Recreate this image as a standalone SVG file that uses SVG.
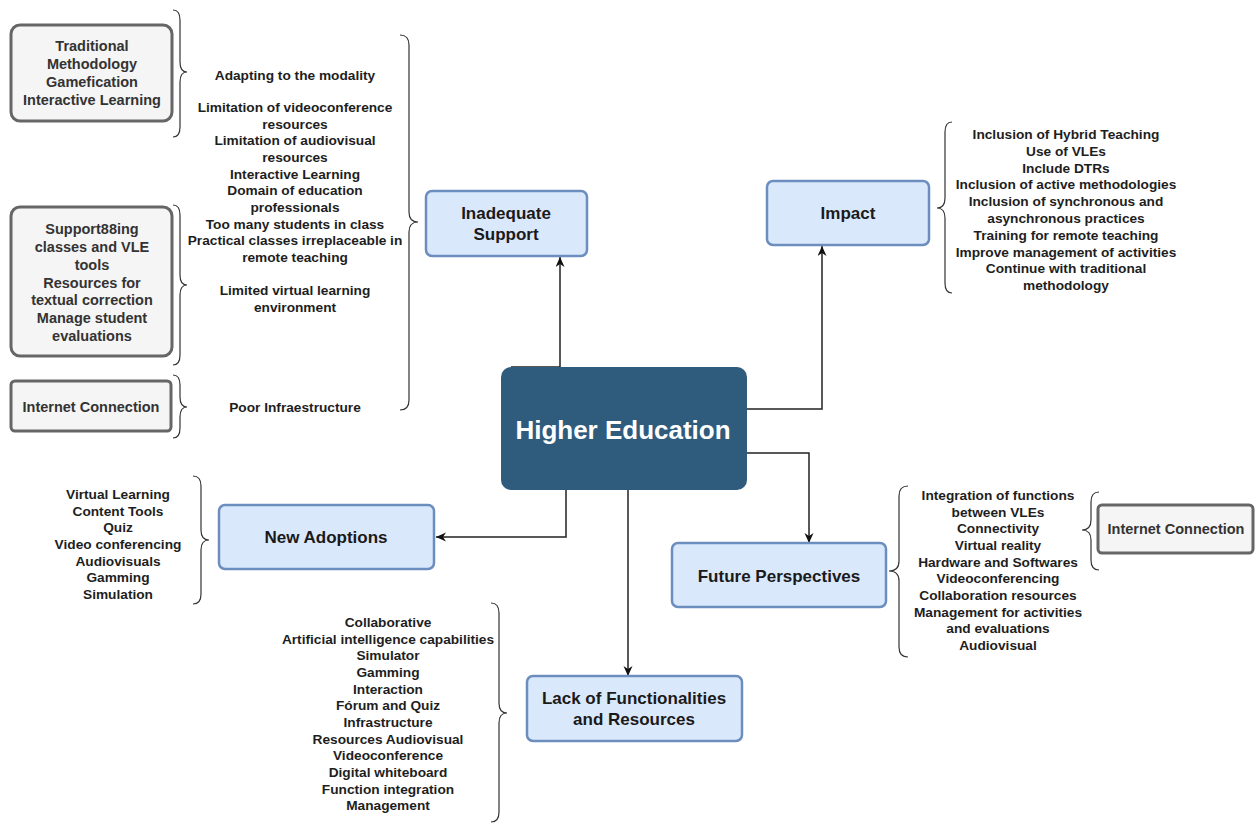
<svg xmlns="http://www.w3.org/2000/svg" width="1257" height="824" viewBox="0 0 1257 824">
  <defs>
    <marker id="arrow" markerUnits="userSpaceOnUse" markerWidth="12" markerHeight="10" refX="10" refY="4.5" orient="auto">
      <path d="M0,0 L10,4.5 L0,9 L3,4.5 Z" fill="#111"/>
    </marker>
    <style>
      text { font-family: "Liberation Sans", Arial, sans-serif; font-weight: bold; text-anchor: middle; }
      .list { font-size: 13.7px; fill: #1e1e1e; }
      .grey-txt { font-size: 14.5px; fill: #333; }
      .label { font-size: 17px; fill: #1a1a1a; }
      .hub-txt { font-size: 26px; fill: #ffffff; }
      .blue { fill: #dae8fc; stroke: #6c8ebf; stroke-width: 2.5; }
      .grey { fill: #f5f5f5; stroke: #666666; stroke-width: 3; }
      .brace { fill: none; stroke: #333; stroke-width: 1.2; }
      .conn { fill: none; stroke: #222; stroke-width: 1.5; }
    </style>
  </defs>
  <rect width="1257" height="824" fill="#ffffff"/>

  <!-- connectors -->
  <g id="connectors">
    <path class="conn" d="M511,367 H560 V257" marker-end="url(#arrow)"/>
    <path class="conn" d="M747,409 H822 V246" marker-end="url(#arrow)"/>
    <path class="conn" d="M740,453 H809 V543" marker-end="url(#arrow)"/>
    <path class="conn" d="M566,490 V537 H436" marker-end="url(#arrow)"/>
    <path class="conn" d="M628,490 V676" marker-end="url(#arrow)"/>
  </g>

  <!-- central node -->
  <g id="higher-education">
    <rect x="501" y="367" width="246" height="123" rx="10" fill="#2f5b7d"/>
    <text class="hub-txt" x="623" y="439">Higher Education</text>
  </g>

  <!-- Inadequate Support -->
  <g id="inadequate-support">
    <rect class="blue" x="426" y="191" width="161" height="65" rx="6"/>
    <text class="label" x="506" y="219">Inadequate</text>
    <text class="label" x="506" y="240">Support</text>
  </g>
  <g id="inadequate-support-items">
    <path class="brace" d="M400,35 Q409,35 409,45 L409,212 Q409,222 418,222 Q409,222 409,232 L409,400 Q409,410 400,410"/>
    <text class="list" x="295" y="80">Adapting to the modality</text>
    <text class="list" x="295" y="112">Limitation of videoconference</text>
    <text class="list" x="295" y="129">resources</text>
    <text class="list" x="295" y="145">Limitation of audiovisual</text>
    <text class="list" x="295" y="162">resources</text>
    <text class="list" x="295" y="179">Interactive Learning</text>
    <text class="list" x="295" y="195">Domain of education</text>
    <text class="list" x="295" y="212">professionals</text>
    <text class="list" x="295" y="229">Too many students in class</text>
    <text class="list" x="295" y="245">Practical classes irreplaceable in</text>
    <text class="list" x="295" y="262">remote teaching</text>
    <text class="list" x="295" y="295">Limited virtual learning</text>
    <text class="list" x="295" y="312">environment</text>
    <text class="list" x="295" y="412">Poor Infraestructure</text>
  </g>

  <!-- grey detail boxes on the left -->
  <g id="methodology">
    <rect class="grey" x="11" y="25" width="161" height="96" rx="9"/>
    <text class="grey-txt" x="92" y="51">Traditional</text>
    <text class="grey-txt" x="92" y="69">Methodology</text>
    <text class="grey-txt" x="92" y="87">Gamefication</text>
    <text class="grey-txt" x="92" y="105">Interactive Learning</text>
    <path class="brace" d="M173,10 Q180,10 180,20 L180,62 Q180,72 187,72 Q180,72 180,82 L180,127 Q180,137 173,137"/>
  </g>
  <g id="tools">
    <rect class="grey" x="11" y="207" width="161" height="149" rx="9"/>
    <text class="grey-txt" x="92" y="234">Support88ing</text>
    <text class="grey-txt" x="92" y="252">classes and VLE</text>
    <text class="grey-txt" x="92" y="270">tools</text>
    <text class="grey-txt" x="92" y="288">Resources for</text>
    <text class="grey-txt" x="92" y="305">textual correction</text>
    <text class="grey-txt" x="92" y="323">Manage student</text>
    <text class="grey-txt" x="92" y="341">evaluations</text>
    <path class="brace" d="M173,205 Q180,205 180,215 L180,275 Q180,285 187,285 Q180,285 180,295 L180,355 Q180,365 173,365"/>
  </g>
  <g id="internet-left">
    <rect class="grey" x="11" y="381" width="160" height="50" rx="4"/>
    <text class="grey-txt" x="91" y="412">Internet Connection</text>
    <path class="brace" d="M173,375 Q180,375 180,385 L180,397 Q180,407 187,407 Q180,407 180,417 L180,428 Q180,438 173,438"/>
  </g>

  <!-- Impact -->
  <g id="impact">
    <rect class="blue" x="767" y="181" width="162" height="64" rx="6"/>
    <text class="label" x="848" y="219">Impact</text>
  </g>
  <g id="impact-items">
    <path class="brace" d="M952,122 Q945,122 945,132 L945,198 Q945,208 937,208 Q945,208 945,218 L945,283 Q945,293 952,293"/>
    <text class="list" x="1066" y="139">Inclusion of Hybrid Teaching</text>
    <text class="list" x="1066" y="156">Use of VLEs</text>
    <text class="list" x="1066" y="173">Include DTRs</text>
    <text class="list" x="1066" y="189">Inclusion of active methodologies</text>
    <text class="list" x="1066" y="206">Inclusion of synchronous and</text>
    <text class="list" x="1066" y="223">asynchronous practices</text>
    <text class="list" x="1066" y="240">Training for remote teaching</text>
    <text class="list" x="1066" y="257">Improve management of activities</text>
    <text class="list" x="1066" y="273">Continue with traditional</text>
    <text class="list" x="1066" y="290">methodology</text>
  </g>

  <!-- Future Perspectives -->
  <g id="future-perspectives">
    <rect class="blue" x="672" y="543" width="214" height="64" rx="6"/>
    <text class="label" x="779" y="582">Future Perspectives</text>
  </g>
  <g id="future-items">
    <path class="brace" d="M908,486 Q899,486 899,496 L899,561 Q899,571 889,571 Q899,571 899,581 L899,647 Q899,657 908,657"/>
    <text class="list" x="998" y="500">Integration of functions</text>
    <text class="list" x="998" y="517">between VLEs</text>
    <text class="list" x="998" y="533">Connectivity</text>
    <text class="list" x="998" y="550">Virtual reality</text>
    <text class="list" x="998" y="567">Hardware and Softwares</text>
    <text class="list" x="998" y="583">Videoconferencing</text>
    <text class="list" x="998" y="600">Collaboration resources</text>
    <text class="list" x="998" y="617">Management for activities</text>
    <text class="list" x="998" y="633">and evaluations</text>
    <text class="list" x="998" y="650">Audiovisual</text>
  </g>
  <g id="internet-right">
    <path class="brace" d="M1099,492 Q1091,492 1091,502 L1091,520 Q1091,530 1082,530 Q1091,530 1091,540 L1091,560 Q1091,570 1099,570"/>
    <rect class="grey" x="1098" y="505" width="155" height="48" rx="4"/>
    <text class="grey-txt" x="1176" y="534">Internet Connection</text>
  </g>

  <!-- New Adoptions -->
  <g id="new-adoptions">
    <rect class="blue" x="219" y="505" width="215" height="64" rx="6"/>
    <text class="label" x="326" y="543">New Adoptions</text>
  </g>
  <g id="new-adoptions-items">
    <path class="brace" d="M193,476 Q201,476 201,486 L201,530 Q201,540 209,540 Q201,540 201,550 L201,594 Q201,604 193,604"/>
    <text class="list" x="118" y="499">Virtual Learning</text>
    <text class="list" x="118" y="516">Content Tools</text>
    <text class="list" x="118" y="532">Quiz</text>
    <text class="list" x="118" y="549">Video conferencing</text>
    <text class="list" x="118" y="566">Audiovisuals</text>
    <text class="list" x="118" y="582">Gamming</text>
    <text class="list" x="118" y="599">Simulation</text>
  </g>

  <!-- Lack of Functionalities and Resources -->
  <g id="lack-of-functionalities">
    <rect class="blue" x="527" y="676" width="215" height="65" rx="6"/>
    <text class="label" x="634" y="704">Lack of Functionalities</text>
    <text class="label" x="634" y="725">and Resources</text>
  </g>
  <g id="lack-items">
    <path class="brace" d="M491,603 Q499,603 499,613 L499,703 Q499,713 507,713 Q499,713 499,723 L499,812 Q499,822 491,822"/>
    <text class="list" x="388" y="627">Collaborative</text>
    <text class="list" x="388" y="644">Artificial intelligence capabilities</text>
    <text class="list" x="388" y="660">Simulator</text>
    <text class="list" x="388" y="677">Gamming</text>
    <text class="list" x="388" y="694">Interaction</text>
    <text class="list" x="388" y="710">Fórum and Quiz</text>
    <text class="list" x="388" y="727">Infrastructure</text>
    <text class="list" x="388" y="744">Resources Audiovisual</text>
    <text class="list" x="388" y="760">Videoconference</text>
    <text class="list" x="388" y="777">Digital whiteboard</text>
    <text class="list" x="388" y="794">Function integration</text>
    <text class="list" x="388" y="810">Management</text>
  </g>
</svg>
